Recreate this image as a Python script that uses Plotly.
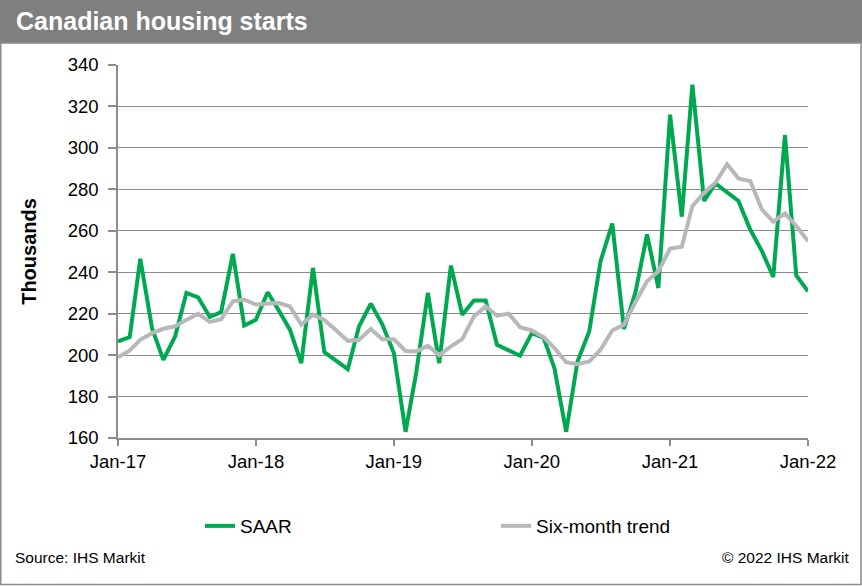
import plotly.graph_objects as go
import pandas as pd

months = pd.date_range("2017-01-01", "2022-01-01", freq="MS").strftime("%Y-%m-%d").tolist()

saar = [206.6, 208.7, 246.5, 213.0, 197.7, 209.0, 230.0, 227.9, 218.4, 220.8, 248.9, 214.3,
        217.0, 230.3, 222.0, 212.3, 196.1, 242.1, 201.4, 197.5, 193.2, 213.9, 224.8, 215.0,
        201.0, 163.0, 191.3, 230.0, 196.1, 243.2, 219.5, 226.4, 226.4, 205.0, 202.3, 199.7,
        210.6, 208.5, 193.7, 163.0, 196.9, 211.4, 245.3, 263.5, 212.6, 230.0, 258.2, 232.4,
        316.0, 266.8, 330.5, 274.4, 282.9, 278.4, 274.4, 260.6, 250.2, 237.7, 306.1, 238.4,
        230.8]

trend = [198.9, 202.3, 207.4, 210.6, 212.7, 213.9, 217.0, 220.0, 216.0, 217.3, 226.0, 226.8,
         224.4, 224.8, 225.2, 223.5, 214.7, 219.5, 217.0, 212.0, 206.9, 207.4, 212.6, 207.7,
         207.7, 202.0, 201.8, 204.5, 200.0, 204.2, 207.7, 218.7, 223.5, 219.0, 220.0, 213.5,
         211.9, 208.7, 203.4, 196.6, 195.6, 196.9, 202.6, 211.9, 214.7, 225.5, 235.6, 240.5,
         251.4, 252.3, 271.9, 278.4, 283.2, 292.1, 285.3, 284.0, 270.3, 264.4, 268.4, 262.3,
         255.0]

y_ticks = [160, 180, 200, 220, 240, 260, 280, 300, 320, 340]
x_tick_dates = ["2017-01-01", "2018-01-01", "2019-01-01", "2020-01-01", "2021-01-01", "2022-01-01"]
x_tick_labels = ["Jan-17", "Jan-18", "Jan-19", "Jan-20", "Jan-21", "Jan-22"]

W, H = 862, 586
L, R, T, B = 118, 808, 65, 438
pw, ph = R - L, B - T

def px(x):
    return (x - L) / pw

def py(y):
    return (B - y) / ph

FONT = "Liberation Sans, Arial, sans-serif"

fig = go.Figure()
fig.add_trace(go.Scatter(x=months, y=saar, mode="lines", name="SAAR", legend="legend",
                         line=dict(color="#00A94F", width=4)))
fig.add_trace(go.Scatter(x=months, y=trend, mode="lines", name="Six-month trend", legend="legend2",
                         line=dict(color="#B8B8BA", width=4)))

leg_common = dict(orientation="h", xanchor="left", yanchor="middle", font=dict(size=19),
                  bgcolor="rgba(0,0,0,0)", borderwidth=0)

fig.update_layout(
    width=W, height=H,
    margin=dict(l=L, r=W - R, t=T, b=H - B, pad=0),
    paper_bgcolor="white", plot_bgcolor="white",
    font=dict(family=FONT, size=18.5, color="#000000"),
    showlegend=True,
    legend=dict(x=px(200), y=py(526), **leg_common),
    legend2=dict(x=px(496), y=py(526), **leg_common),
    xaxis=dict(range=["2017-01-01", "2022-01-01"], tickvals=x_tick_dates, ticktext=x_tick_labels,
               showgrid=False, showline=True, linecolor="#8C8C8C", linewidth=1.5,
               ticks="outside", ticklen=6, tickcolor="#8C8C8C", tickwidth=1.5,
               tickfont=dict(size=18.5), zeroline=False),
    yaxis=dict(range=[160, 340], tickvals=y_ticks, showgrid=True, gridcolor="#8C8C8C", gridwidth=1.2,
               showline=True, linecolor="#8C8C8C", linewidth=1.5,
               ticks="outside", ticklen=8, tickcolor="#8C8C8C", tickwidth=1.5,
               ticklabelstandoff=6,
               tickfont=dict(size=18.5), zeroline=False,
               title=dict(text="<b>Thousands</b>", font=dict(size=20), standoff=26)),
)

# header banner and border
fig.add_shape(type="rect", xref="paper", yref="paper",
              x0=px(0), x1=px(W), y0=py(43), y1=py(0),
              fillcolor="#7F7F7F", line=dict(width=0), layer="below")
fig.add_shape(type="rect", xref="paper", yref="paper",
              x0=px(0.75), x1=px(W - 1), y0=py(H - 1.5), y1=py(43),
              fillcolor="rgba(0,0,0,0)", line=dict(color="#8C8C8C", width=1.5), layer="below")

fig.add_annotation(text="<b>Canadian housing starts</b>", xref="paper", yref="paper",
                   x=px(14), y=py(21), xanchor="left", yanchor="middle", showarrow=False,
                   font=dict(size=25, color="white", family=FONT))
fig.add_annotation(text="Source: IHS Markit", xref="paper", yref="paper",
                   x=px(13), y=py(557), xanchor="left", yanchor="middle", showarrow=False,
                   font=dict(size=15.5, color="#000000", family=FONT))
fig.add_annotation(text="© 2022 IHS Markit", xref="paper", yref="paper",
                   x=px(852), y=py(557), xanchor="right", yanchor="middle", showarrow=False,
                   font=dict(size=15.5, color="#000000", family=FONT))

fig.write_html("out.html", config={"displayModeBar": False},
               post_script="document.body.style.margin='0px';")
